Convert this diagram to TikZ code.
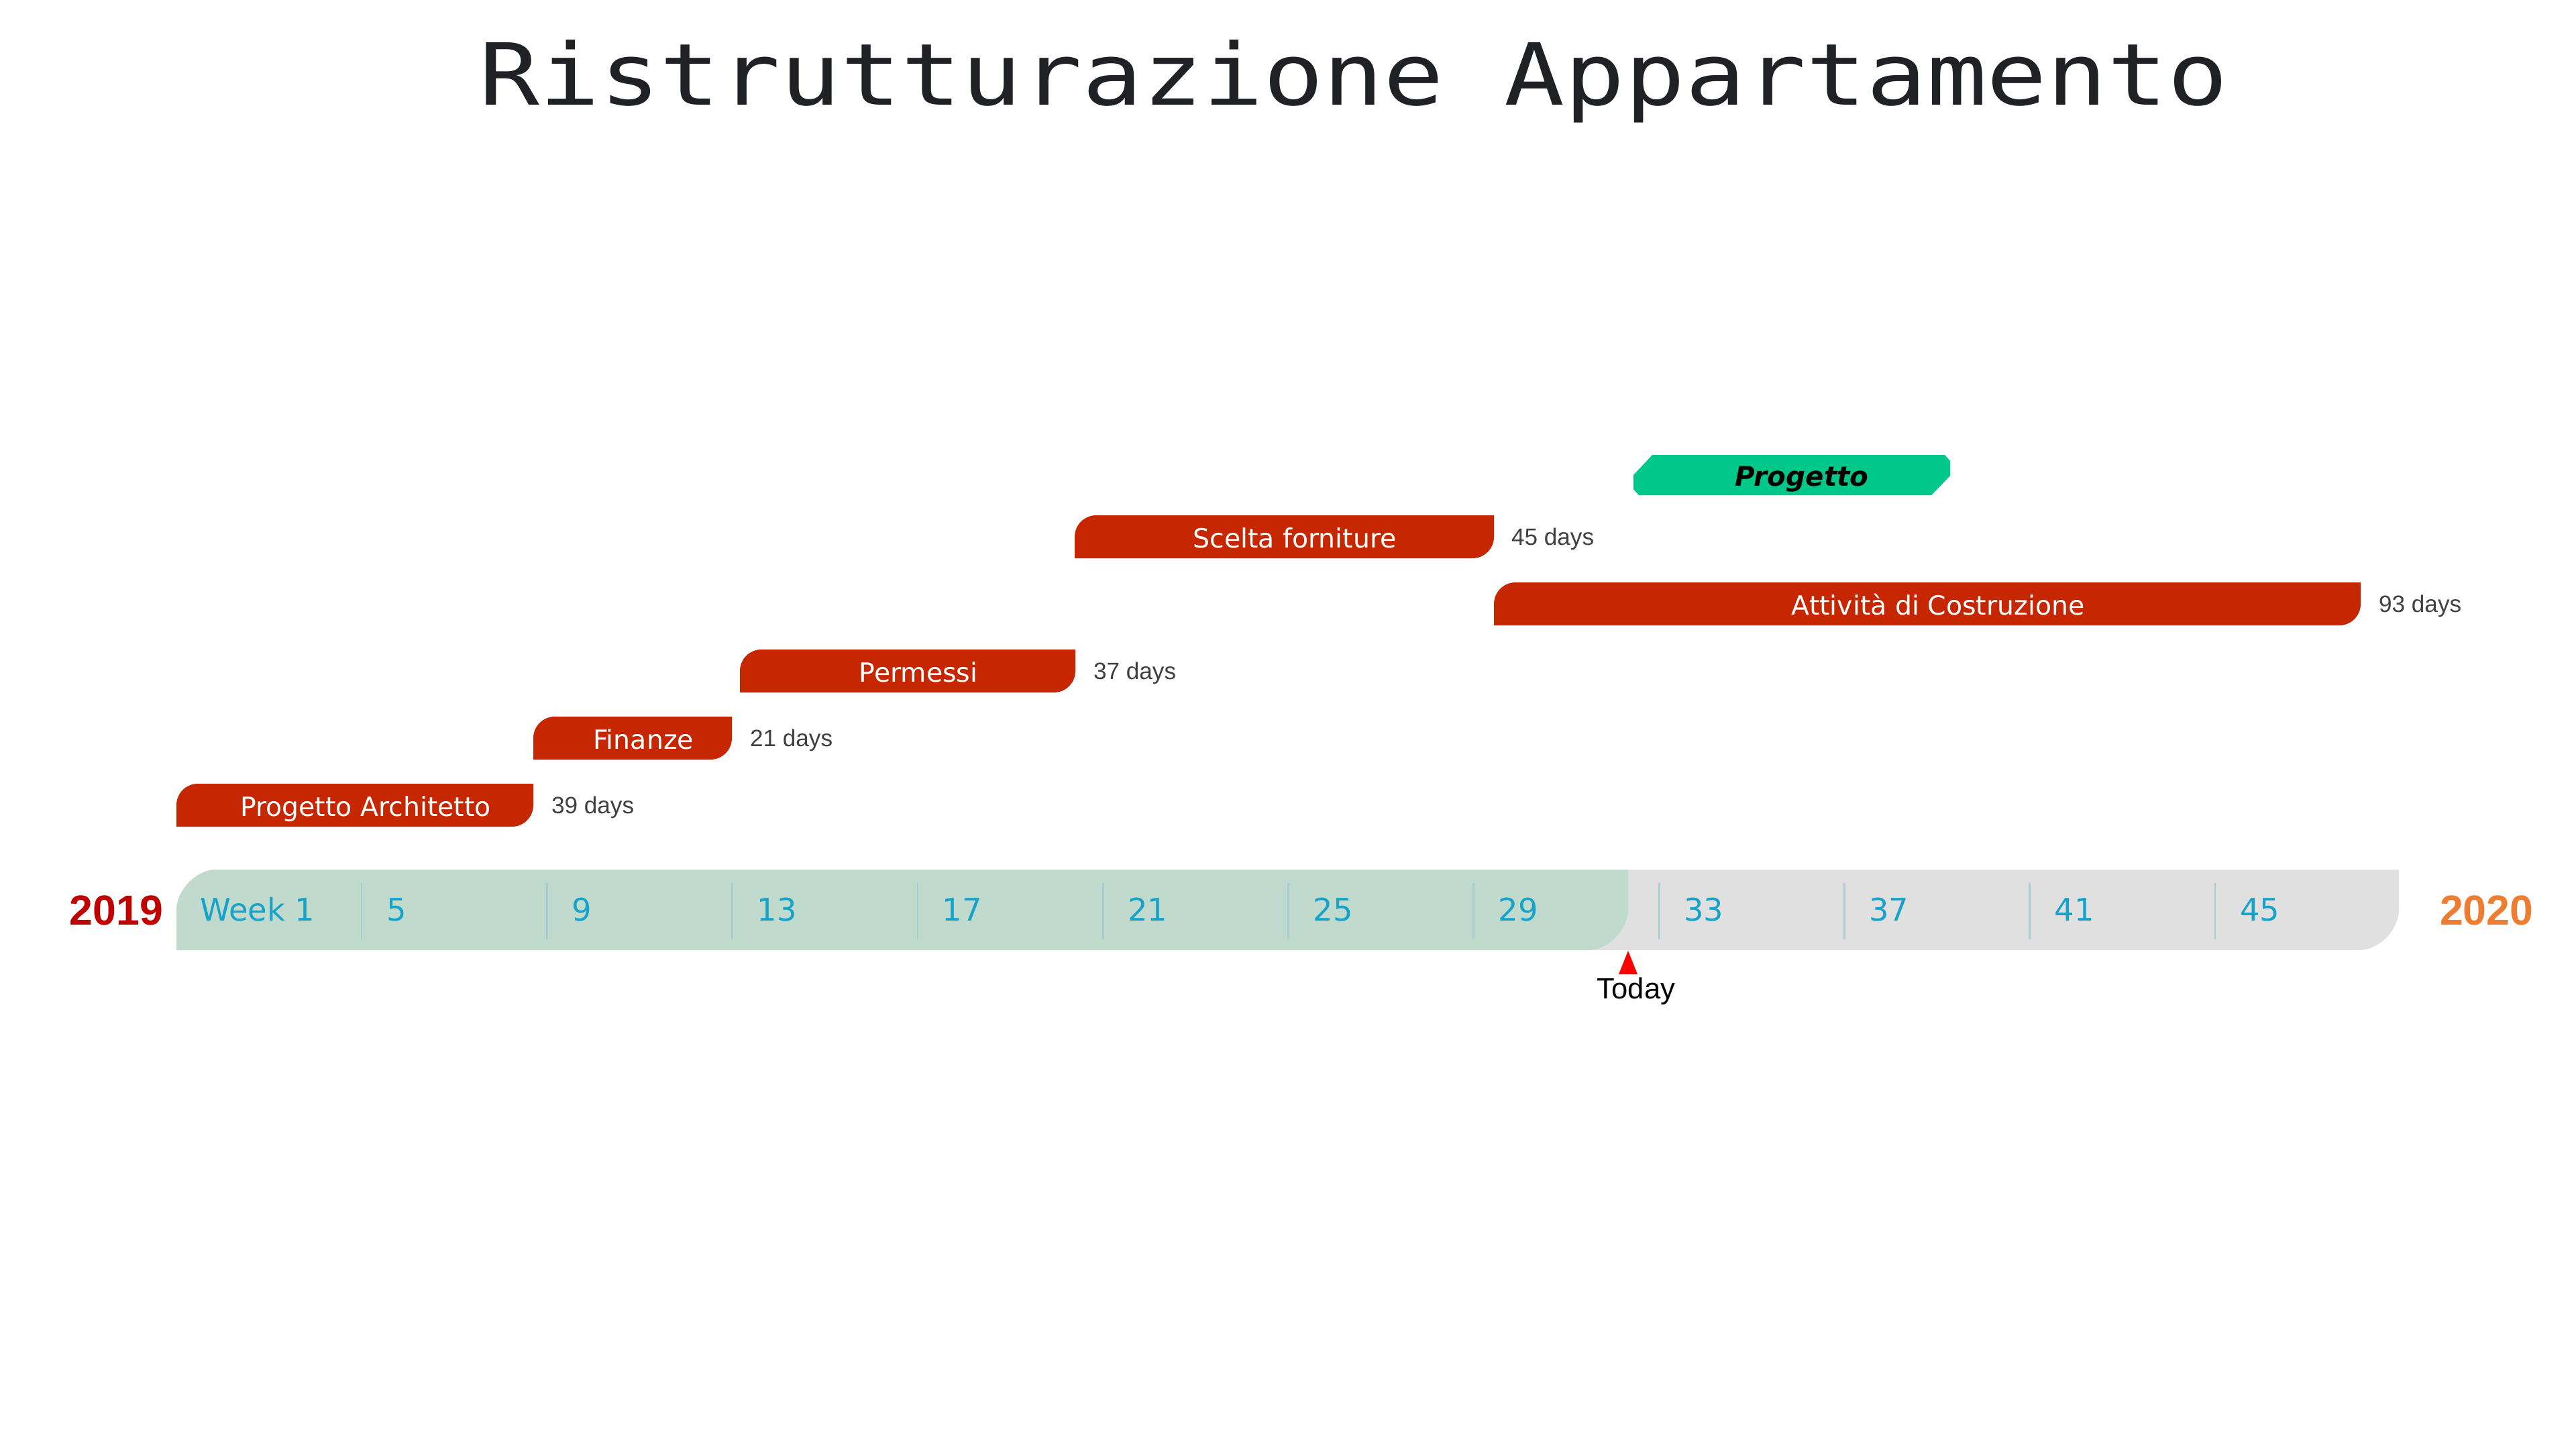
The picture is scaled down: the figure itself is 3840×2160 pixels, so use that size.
\documentclass[tikz,border=0pt]{standalone}
\usepackage{fontspec}
\newfontfamily\titlefont[FakeStretch=1.17]{DejaVu Sans Mono}
\newfontfamily\uifont{DejaVu Sans}
\newfontfamily\arialfont{Liberation Sans}

\definecolor{taskred}{RGB}{198,38,0}
\definecolor{donegreen}{RGB}{192,219,205}
\definecolor{railgray}{RGB}{224,224,224}
\definecolor{tickblue}{RGB}{168,203,212}
\definecolor{weekblue}{RGB}{23,162,201}
\definecolor{mintgreen}{RGB}{0,199,138}
\definecolor{daygray}{RGB}{64,64,64}
\definecolor{titleink}{RGB}{32,33,36}
\definecolor{yearred}{RGB}{192,0,0}
\definecolor{yearorange}{RGB}{237,125,49}

% bar with rounded top-left and bottom-right corners: left, right, top (height 64)
\newcommand{\ganttbar}[3]{%
  \fill[taskred] (#1,#3+64) -- (#1,#3+32)
    .. controls (#1,#3+14.3) and (#1+14.3,#3) .. (#1+32,#3)
    -- (#2,#3) -- (#2,#3+32)
    .. controls (#2,#3+49.7) and (#2-14.3,#3+64) .. (#2-32,#3+64) -- cycle;}

\begin{document}
\begin{tikzpicture}[x=0.01cm,y=-0.01cm,
  every node/.style={inner sep=0pt,outer sep=0pt},
  tasklabel/.style={anchor=base,text=white,font=\uifont\fontsize{11.2pt}{13pt}\selectfont},
  daylabel/.style={anchor=base west,text=daygray,font=\arialfont\fontsize{10pt}{12pt}\selectfont},
  weeklabel/.style={anchor=base west,text=weekblue,font=\uifont\fontsize{13.2pt}{15pt}\selectfont},
  tickline/.style={draw=tickblue,line width=0.8pt},
  yearlabel/.style={font=\arialfont\bfseries\fontsize{17.8pt}{20pt}\selectfont}]

\useasboundingbox (0,0) rectangle (3840,2160);
\fill[white] (0,0) rectangle (3840,2160);

% title
\node[anchor=base,text=titleink,font=\titlefont\fontsize{36.3pt}{40pt}\selectfont]
  (title) at (2018,156) {Ristrutturazione Appartamento};

% time rail: full span in gray, elapsed part in green
\fill[railgray] (263,1416) -- (263,1356)
  .. controls (263,1329) and (290,1296) .. (323,1296)
  -- (3576,1296) -- (3576,1356)
  .. controls (3576,1383) and (3549,1416) .. (3516,1416) -- cycle;
\fill[donegreen] (263,1416) -- (263,1356)
  .. controls (263,1329) and (290,1296) .. (323,1296)
  -- (2427,1296) -- (2427,1356)
  .. controls (2427,1383) and (2400,1416) .. (2367,1416) -- cycle;

% week ticks and numbers
\node[weeklabel] (wk1) at (298,1372) {Week 1};
\foreach \n [count=\k from 0] in {5,9,13,17,21,25,29,33,37,41,45}{
  \pgfmathsetmacro{\tx}{539+276.3*\k}
  \draw[tickline] (\tx,1316) -- (\tx,1400);
  \node[weeklabel] (wk\n) at (\tx+37,1372) {\n};
}

% years
\node[yearlabel,anchor=base east,text=yearred] (ystart) at (243,1378) {2019};
\node[yearlabel,anchor=base west,text=yearorange] (yend) at (3637,1378) {2020};

% today marker
\fill[red] (2427,1417) -- (2441,1452) -- (2413,1452) -- cycle;
\node[anchor=base,font=\arialfont\fontsize{12.4pt}{14pt}\selectfont] (today) at (2439,1488) {Today};

% tasks
\ganttbar{263}{795}{1168}
\node[tasklabel] (t1) at (545,1216) {Progetto Architetto};
\node[daylabel] (d1) at (822,1212) {39 days};

\ganttbar{795}{1091}{1068}
\node[tasklabel] (t2) at (959,1116) {Finanze};
\node[daylabel] (d2) at (1118,1112) {21 days};

\ganttbar{1103}{1603}{968}
\node[tasklabel] (t3) at (1369,1016) {Permessi};
\node[daylabel] (d3) at (1630,1012) {37 days};

\ganttbar{2227}{3519}{868}
\node[tasklabel] (t4) at (2889,916) {Attività di Costruzione};
\node[daylabel] (d4) at (3546,912) {93 days};

\ganttbar{1602}{2227}{768}
\node[tasklabel] (t5) at (1930,816) {Scelta forniture};
\node[daylabel] (d5) at (2253,812) {45 days};

% project summary bar
\fill[mintgreen] (2463,678) -- (2899,678) -- (2907,687) -- (2907,709)
  -- (2879,738) -- (2443,738) -- (2435,729) -- (2435,708) -- cycle;
\node[anchor=base,font=\uifont\bfseries\itshape\fontsize{11.5pt}{13pt}\selectfont]
  (proj) at (2686,724) {Progetto};

\end{tikzpicture}
\end{document}
